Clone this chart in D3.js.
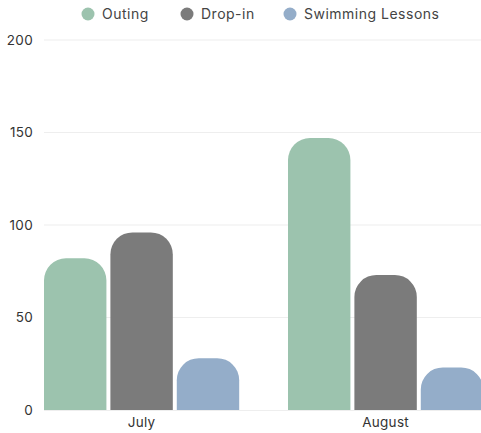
<!DOCTYPE html>
<html>
<head>
<meta charset="utf-8">
<script src="https://cdn.jsdelivr.net/npm/d3@7"></script>
<style>
  html, body { margin: 0; padding: 0; background: #fff; }
  svg { display: block; font-family: Inter, "Open Sans", sans-serif; }
</style>
</head>
<body>
<svg id="chart" width="481" height="433"></svg>
<script>
const months = ["July", "August"];
const seriesNames = ["Outing", "Drop-in", "Swimming Lessons"];
const outing = [82, 147];
const dropIn = [96, 73];
const swimming = [28, 23];
const yTicks = [0, 50, 100, 150, 200];
const colors = ["#9cc3ae", "#7b7b7b", "#94adc9"];

const seriesValues = [outing, dropIn, swimming];
const svg = d3.select("#chart");
const FONT = "Inter, 'Open Sans', sans-serif";

const y = d3.scaleLinear().domain([0, 200]).range([410, 40]);
const x0 = d3.scaleBand().domain(months).range([19.6, 507.6]).paddingInner(0.2).paddingOuter(0.1);
const x1 = d3.scaleBand().domain(seriesNames).range([0, x0.bandwidth()]).paddingInner(0.06).paddingOuter(0);

// gridlines
svg.append("g").selectAll("line").data(yTicks.filter(d => d > 0)).join("line")
  .attr("x1", 44).attr("x2", 481)
  .attr("y1", d => y(d)).attr("y2", d => y(d))
  .attr("stroke", "#eeeeee").attr("stroke-width", 1.2);

// y axis labels
const yAxis = d3.axisLeft(y).tickValues(yTicks).tickSize(0).tickPadding(0);
const yg = svg.append("g").attr("transform", "translate(33,0)").call(yAxis);
yg.select(".domain").remove();
yg.selectAll("text").attr("font-size", 13.5).attr("fill", "#333").attr("font-family", FONT).attr("letter-spacing", 0.3);

// bars
function topRounded(x, yTop, w, h, r) {
  r = Math.min(r, w / 2, h);
  return `M${x},${yTop + h}V${yTop + r}A${r},${r} 0 0 1 ${x + r},${yTop}H${x + w - r}A${r},${r} 0 0 1 ${x + w},${yTop + r}V${yTop + h}Z`;
}
const barData = [];
months.forEach((m, i) => seriesNames.forEach((s, j) => barData.push({ m, s, v: seriesValues[j][i], c: colors[j] })));
svg.append("g").selectAll("path").data(barData).join("path")
  .attr("d", d => {
    const bx = x0(d.m) + x1(d.s);
    const yt = y(d.v);
    return topRounded(bx, yt, x1.bandwidth(), y(0) - yt, 22);
  })
  .attr("fill", d => d.c);

// baseline
svg.append("line").attr("x1", 44).attr("x2", 481).attr("y1", y(0) + 0.5).attr("y2", y(0) + 0.5)
  .attr("stroke", "#eeeeee");

// x axis labels
const xAxis = d3.axisBottom(x0).tickSize(0).tickPadding(0);
const xg = svg.append("g").attr("transform", "translate(0,417)").call(xAxis);
xg.select(".domain").remove();
xg.selectAll("text").attr("font-size", 13.5).attr("fill", "#333").attr("font-family", FONT).attr("letter-spacing", 0.3);

// legend
const legendX = [88, 187, 290];
const lg = svg.append("g").selectAll("g").data(seriesNames).join("g")
  .attr("transform", (d, i) => `translate(${legendX[i]},14)`);
lg.append("circle").attr("r", 6.5).attr("fill", (d, i) => colors[i]);
lg.append("text").attr("x", 14).attr("dy", "0.35em").attr("font-size", 14).attr("letter-spacing", 0.5)
  .attr("fill", "#444").text(d => d);
</script>
</body>
</html>
